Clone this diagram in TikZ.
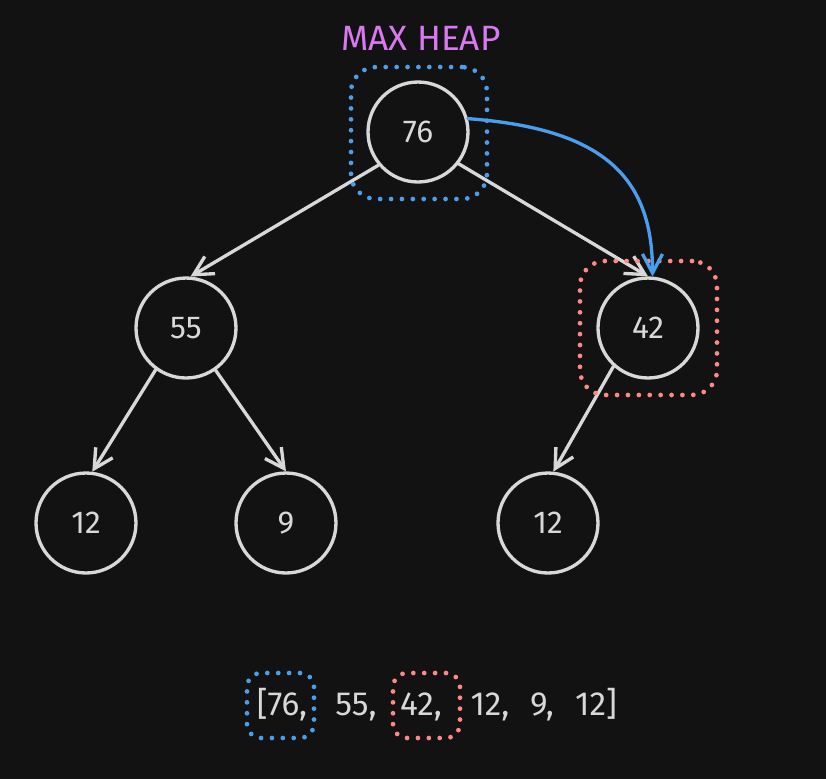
\documentclass[tikz,border=0pt]{standalone}
\usepackage{fontspec}
\setmainfont{Fira Sans}
\usetikzlibrary{arrows.meta}

\definecolor{bgdark}{HTML}{121212}
\definecolor{inkgray}{HTML}{D8D8D8}
\definecolor{markblue}{HTML}{4A9EED}
\definecolor{markred}{HTML}{FF8787}
\definecolor{titleviolet}{HTML}{DA77F2}

\begin{document}

\begin{tikzpicture}[> = {Straight Barb[length = 3.8mm, width = 4mm]}, x = 0.02cm, y = -0.02cm,
	heapnode/.style = {circle, draw = inkgray, line width = 1.9pt, minimum size = 2cm, inner sep = 0pt,
		text = inkgray, font = \fontsize{18pt}{21pt}\selectfont},
	heapedge/.style = {->, draw = inkgray, line width = 1.9pt, line cap = round},
	dotbox/.style = {rectangle, rounded corners = 0.5cm, line width = 2.7pt, line cap = round,
		dash pattern = on 0pt off 6.2pt, inner sep = 0pt},
	arrtext/.style = {anchor = base, inner sep = 0pt, text = inkgray, font = \fontsize{19pt}{22pt}\selectfont}]

	% Background

	\fill [bgdark] (0, 0) rectangle (826, 779);

	% Title

	\node [text = titleviolet, font = \fontsize{20pt}{24pt}\selectfont] (title) at (421, 38) {MAX HEAP};

	% Heap nodes

	\node [heapnode] (n76) at (418, 132) {76};
	\node [heapnode] (n55) at (186, 328) {55};
	\node [heapnode] (n42) at (648, 328) {42};
	\node [heapnode] (n12a) at (86, 523) {12};
	\node [heapnode] (n9) at (286, 523) {9};
	\node [heapnode] (n12b) at (548, 523) {12};

	% Edges

	\draw [heapedge] (n76.220) -- (n55.85);
	\draw [heapedge] (n76.-38) -- (n42.north);
	\draw [heapedge] (n55.234) -- (n12a.83);
	\draw [heapedge] (n55.305) -- (n9.north);
	\draw [heapedge] (n42.228) -- (n12b.84);

	% Highlight boxes round root and last leaf parent

	\node [dotbox, draw = markblue, minimum width = 2.72cm, minimum height = 2.64cm] (rootbox) at (419, 133) {};
	\node [dotbox, draw = markred, minimum width = 2.74cm, minimum height = 2.68cm] (swapbox) at (648.5, 328) {};

	% Swap arrow

	\draw [->, draw = markblue, line width = 1.9pt, line cap = round] (n76.15) .. controls +(135, 10) and +(0, -100) .. (n42.85);

	% Array form

	\node [arrtext] (a1) at (282, 715) {[76,};
	\node [arrtext] (a2) at (356, 715) {55,};
	\node [arrtext] (a3) at (421, 715) {42,};
	\node [arrtext] (a4) at (490, 715) {12,};
	\node [arrtext] (a5) at (542, 715) {9,};
	\node [arrtext] (a6) at (596, 715) {12]};

	\node [dotbox, draw = markblue, rounded corners = 0.28cm, minimum width = 1.34cm, minimum height = 1.3cm] (firstbox) at (280.5, 705.5) {};
	\node [dotbox, draw = markred, rounded corners = 0.28cm, minimum width = 1.34cm, minimum height = 1.3cm] (thirdbox) at (426.5, 705.5) {};

\end{tikzpicture}

\end{document}
